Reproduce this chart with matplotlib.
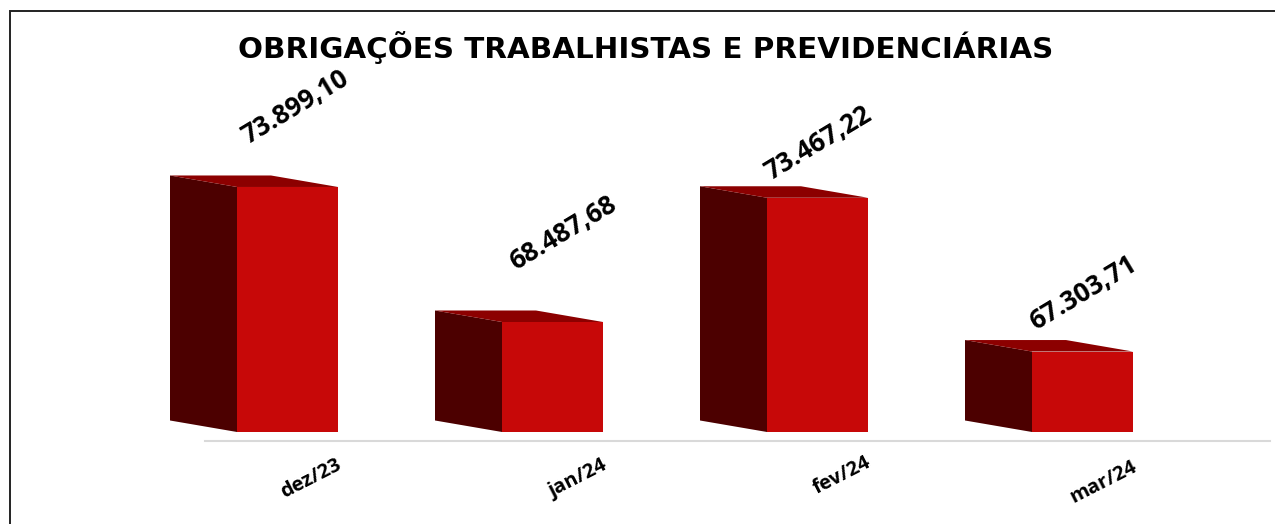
import matplotlib
matplotlib.use('Agg')
import matplotlib.pyplot as plt
from matplotlib.patches import Polygon, Rectangle
from matplotlib.transforms import ScaledTranslation

months = ['dez/23', 'jan/24', 'fev/24', 'mar/24']
values = [73899.10, 68487.68, 73467.22, 67303.71]
value_labels = ['73.899,10', '68.487,68', '73.467,22', '67.303,71']
title = 'OBRIGAÇÕES TRABALHISTAS E PREVIDENCIÁRIAS'

W, H = 1275, 524
plt.rcParams['font.family'] = ['Open Sans', 'DejaVu Sans']

fig = plt.figure(figsize=(W / 100, H / 100), dpi=100)

# outer frame, runs off the right and bottom edge
fig.add_artist(Rectangle((9.5 / W, -0.1), 1.2, 1.1 - 11.5 / H, transform=fig.transFigure,
                         fill=False, edgecolor='#222222', linewidth=1.4))

# axes box in pixels, baseline at y=441
left, right, top, bottom = 205, 1270, 60, 441
ax = fig.add_axes([left / W, 1 - bottom / H, (right - left) / W, (bottom - top) / H])
ax.patch.set_alpha(0)

# scale: 1 px = 40.08 units, front face foot sits 9 px over the axis line
ax.set_xlim((left - 287.5) / 265, (right - 287.5) / 265)
ax.set_ylim(63718, 63718 + (bottom - top) * 40.08)
floor = 64079
bar_w = 101 / 265
dx = 67 / 265
dy = 11.5 * 40.08

xs = range(len(values))
ax.bar(xs, [v - floor for v in values], bottom=floor, width=bar_w, color='#c70808', zorder=3)
for x, v in zip(xs, values):
    l = x - bar_w / 2
    r = x + bar_w / 2
    # side face
    ax.add_patch(Polygon([(l, floor), (l, v), (l - dx, v + dy), (l - dx, floor + dy)],
                         closed=True, facecolor='#4c0000', edgecolor='none', zorder=2, clip_on=False))
    # top face
    ax.add_patch(Polygon([(l, v), (r, v), (r - dx, v + dy), (l - dx, v + dy)],
                         closed=True, facecolor='#8c0000', edgecolor='none', zorder=2, clip_on=False))

for s in ['top', 'left', 'right']:
    ax.spines[s].set_visible(False)
ax.spines['bottom'].set_color('#d9d9d9')
ax.spines['bottom'].set_linewidth(1.5)
ax.set_yticks([])
ax.set_xticks(list(xs))
ax.set_xticklabels(months, rotation=27, fontsize=14.5, fontweight='bold', ha='center', va='center')
ax.tick_params(axis='x', length=0)

label_shift = [(23, -33), (25, -33), (25, -30), (21, -36)]
for lab, (sx, sy) in zip(ax.get_xticklabels(), label_shift):
    lab.set_transform(lab.get_transform() + ScaledTranslation(sx / 100, sy / 100, fig.dpi_scale_trans))

value_shift = [(8, 80), (10, 89), (1, 55), (1, 58)]
for x, v, t, (sx, sy) in zip(xs, values, value_labels, value_shift):
    ax.annotate(t, (x, v), xytext=(sx * 0.72, sy * 0.72), textcoords='offset points',
                rotation=31, rotation_mode='anchor', ha='center', va='center',
                fontsize=18.8, fontweight='bold', color='black', zorder=5)

fig.text(646 / W, 1 - 57.5 / H, title, ha='center', va='baseline', fontsize=21.2,
         fontweight='bold', color='black', family='DejaVu Sans')

fig.savefig('out.png', dpi=100)
